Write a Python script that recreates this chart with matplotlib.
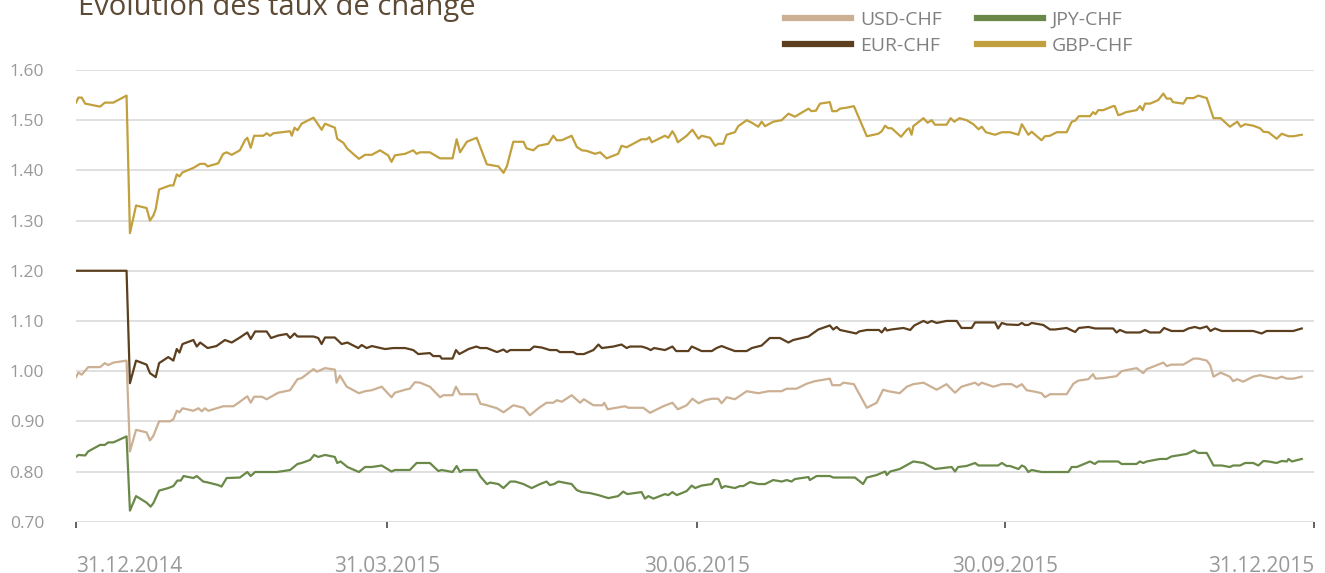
import numpy as np
import matplotlib
matplotlib.use("Agg")
import matplotlib.pyplot as plt

# Tage seit 31.12.2014 und Kurse
usd_tage = [0, 0.7, 1.7, 3.6, 7.1, 8.5, 9.5, 11, 14.9, 15.9, 17.7, 20.8, 21.8, 22.8, 24.5, 27.7, 28.7, 29.7,
            30.5, 31.4, 34.6, 36.1, 37.1, 38, 39, 41.9, 43.4, 46.4, 48.3, 50.5, 51.5, 52.5, 54.8, 56.2, 59.6,
            63.1, 65.3, 66.5, 70, 71, 73.4, 76.3, 76.8, 77.8, 79.8, 83.4, 85.2, 87.2, 90.1, 93, 94, 97, 98.4,
            99.9, 101.4, 104.3, 107.3, 108.3, 111, 112, 113.2, 118.1, 119.2, 121.1, 124.1, 126, 128.9, 131.9,
            133.8, 136.3, 138.7, 140.7, 141.7, 143.2, 146.1, 148.6, 149.7, 152.5, 155.2, 155.7, 156.7, 161.8,
            162.8, 167.2, 169.2, 173.1, 175.8, 177.4, 180, 181.7, 183.5, 185.4, 187.4, 189.3, 190.3, 191.8,
            194.2, 197.7, 201.1, 204.1, 208, 209.5, 212.4, 215.4, 217.8, 222.2, 222.9, 225.2, 226.2, 229.3,
            233.1, 236, 237.9, 239.4, 242.8, 244.9, 246.8, 249.8, 253.7, 256.6, 259.1, 261, 265, 266, 267,
            270.4, 272.9, 275.8, 277.3, 278.8, 280.2, 282.7, 284.6, 285.6, 287.1, 292, 294, 295.4, 298.4,
            299.8, 300.5, 302.8, 306.7, 308.2, 312.6, 314.6, 315.6, 320.5, 321.5, 322.9, 326.4, 329.4, 330.8,
            333.3, 334.3, 335.3, 337.4, 340.1, 341.1, 342.3, 344, 347, 349, 350.9, 353.9, 355.4, 356.9, 358.8,
            361.3]
usd_kurs = [0.988, 0.997, 0.993, 1.008, 1.008, 1.016, 1.012, 1.017, 1.021, 0.840, 0.883, 0.878, 0.862, 0.871,
            0.900, 0.900, 0.904, 0.921, 0.918, 0.926, 0.921, 0.926, 0.920, 0.926, 0.921, 0.927, 0.930, 0.930,
            0.939, 0.950, 0.937, 0.949, 0.949, 0.944, 0.957, 0.962, 0.984, 0.986, 1.004, 0.999, 1.006, 1.003,
            0.977, 0.991, 0.969, 0.956, 0.960, 0.962, 0.969, 0.948, 0.957, 0.963, 0.965, 0.978, 0.977, 0.969,
            0.948, 0.952, 0.952, 0.969, 0.954, 0.954, 0.935, 0.932, 0.926, 0.918, 0.932, 0.927, 0.912, 0.926,
            0.937, 0.937, 0.942, 0.939, 0.952, 0.937, 0.944, 0.932, 0.932, 0.937, 0.924, 0.930, 0.927, 0.927,
            0.917, 0.930, 0.937, 0.924, 0.932, 0.945, 0.936, 0.942, 0.945, 0.945, 0.936, 0.948, 0.944, 0.960,
            0.956, 0.960, 0.960, 0.965, 0.965, 0.975, 0.980, 0.985, 0.972, 0.972, 0.977, 0.974, 0.927, 0.937,
            0.963, 0.960, 0.956, 0.969, 0.974, 0.977, 0.963, 0.974, 0.957, 0.969, 0.977, 0.972, 0.977, 0.969,
            0.974, 0.974, 0.968, 0.974, 0.962, 0.959, 0.956, 0.948, 0.954, 0.954, 0.975, 0.981, 0.984, 0.994,
            0.985, 0.986, 0.990, 1.000, 1.006, 0.996, 1.004, 1.017, 1.010, 1.013, 1.013, 1.025, 1.025, 1.021,
            1.012, 0.989, 0.997, 0.989, 0.980, 0.984, 0.979, 0.989, 0.992, 0.989, 0.985, 0.989, 0.985, 0.985,
            0.989]

eur_tage = [0, 14.9, 15.9, 17.7, 20.8, 21.8, 23.5, 24.5, 27.2, 28.7, 29.7, 30.5, 31.4, 34.6, 35.6, 36.6, 38.8,
            41.4, 43.9, 45.9, 48.3, 50.5, 51.5, 52.8, 56.2, 57.5, 59.6, 62.1, 63.1, 64.4, 65.3, 70, 71.4, 72.4,
            73.4, 76.3, 78.3, 80, 83.2, 84.2, 85.7, 87.2, 91.1, 93.5, 97, 99.4, 100.9, 104.3, 105.3, 107.3,
            107.8, 111, 112, 113, 115.7, 118, 119.2, 121.1, 124.1, 126, 127, 128, 133.8, 135, 137.3, 139.7,
            141.7, 142.6, 146.6, 147.6, 149.7, 152.5, 154, 155, 158.4, 160.8, 162.3, 163.3, 166.7, 168.2, 169.4,
            170.4, 173.6, 175.8, 176.9, 180.5, 181.5, 182.5, 184.4, 187.4, 188.8, 190.3, 191.8, 194.2, 197.7,
            199.2, 202.1, 204.5, 207.5, 210, 211.4, 215.9, 218.8, 222.2, 223.2, 224.2, 225.2, 230, 230.8, 233.1,
            236.7, 237.5, 238.5, 239, 240.4, 243.9, 245.9, 247.1, 249.8, 251, 252.2, 253.7, 256.6, 259.6, 261,
            264, 265, 270.9, 271.8, 272.9, 274.3, 277.8, 278.8, 279.7, 280.7, 281.7, 285.1, 287.1, 288.6, 292,
            294.5, 295.6, 298.4, 300.4, 305.7, 306.7, 307.7, 309.5, 313.6, 315.1, 316.6, 319.5, 320.7, 322.9,
            326.4, 327.9, 329.8, 331.3, 333.3, 334.4, 335.7, 337.7, 347, 349.5, 350.9, 358.8, 361.3]
eur_kurs = [1.200, 1.200, 0.976, 1.021, 1.013, 0.996, 0.988, 1.016, 1.028, 1.021, 1.044, 1.037, 1.054, 1.062,
            1.049, 1.057, 1.046, 1.050, 1.062, 1.057, 1.067, 1.077, 1.064, 1.079, 1.079, 1.066, 1.071, 1.074,
            1.066, 1.075, 1.069, 1.069, 1.066, 1.054, 1.067, 1.067, 1.054, 1.057, 1.046, 1.052, 1.046, 1.050,
            1.044, 1.046, 1.046, 1.042, 1.034, 1.036, 1.030, 1.030, 1.025, 1.025, 1.042, 1.034, 1.044, 1.049,
            1.046, 1.046, 1.038, 1.043, 1.038, 1.042, 1.042, 1.049, 1.047, 1.042, 1.042, 1.038, 1.038, 1.034,
            1.034, 1.042, 1.053, 1.046, 1.049, 1.053, 1.046, 1.049, 1.049, 1.046, 1.042, 1.046, 1.042, 1.049,
            1.040, 1.040, 1.049, 1.046, 1.040, 1.040, 1.046, 1.050, 1.046, 1.040, 1.040, 1.046, 1.051, 1.066,
            1.066, 1.057, 1.062, 1.069, 1.083, 1.091, 1.083, 1.088, 1.082, 1.075, 1.079, 1.082, 1.082, 1.077,
            1.086, 1.081, 1.083, 1.086, 1.082, 1.091, 1.100, 1.096, 1.100, 1.096, 1.100, 1.100, 1.086, 1.086,
            1.097, 1.097, 1.085, 1.096, 1.093, 1.092, 1.096, 1.092, 1.092, 1.096, 1.092, 1.083, 1.083, 1.086,
            1.078, 1.086, 1.088, 1.085, 1.085, 1.077, 1.082, 1.077, 1.077, 1.082, 1.077, 1.077, 1.086, 1.080,
            1.080, 1.085, 1.088, 1.085, 1.089, 1.080, 1.085, 1.080, 1.080, 1.075, 1.080, 1.080, 1.085]

jpy_tage = [0, 0.7, 2.7, 3.6, 7.1, 8.5, 9.5, 11, 14.9, 15.9, 17.7, 20.8, 22, 22.8, 24.5, 27.2, 28.7, 29.9, 30.9,
            31.7, 34.6, 35.6, 37.5, 39, 41.9, 42.9, 44.4, 48.3, 50.5, 51.5, 52.8, 59.2, 63.1, 65.3, 66.5, 69,
            70.2, 71.4, 73.4, 76.3, 77, 78, 80, 83.4, 85.2, 87.2, 90.1, 93, 94, 98.4, 100.4, 104.3, 106.8,
            107.8, 111, 112.2, 113.2, 114.2, 118.1, 119.2, 121.1, 122.1, 124.5, 126, 128, 129.4, 131.9, 134.3,
            136.8, 138.7, 139.7, 140.9, 142.2, 143.7, 146.1, 147.6, 149.1, 151.5, 154, 156.9, 159.8, 161.3,
            162.5, 166.7, 167.7, 168.7, 170.2, 173.6, 174.6, 175.8, 177.1, 180, 181.5, 182.5, 184.4, 187.4,
            188.4, 189.3, 190.3, 191.3, 194.2, 195.7, 196.7, 198.7, 201.1, 203.1, 205.5, 208, 209.5, 210.9,
            211.9, 215.9, 216.3, 218.3, 222.2, 223.2, 229.6, 232, 233.1, 236, 238.5, 239, 240, 242.8, 246.8,
            249.8, 253.2, 258.1, 259.1, 260, 262.5, 265, 266, 271.8, 272.9, 274.3, 275.3, 277.8, 278.8, 279.7,
            280.7, 281.7, 284.6, 292.5, 293.5, 295, 298.9, 300.3, 301.3, 307.2, 308.2, 312.6, 313.6, 314.6,
            315.6, 319.5, 321.5, 322.9, 327.4, 329.6, 330.8, 333.3, 335.3, 337.7, 340.1, 341.1, 343.1, 344.6,
            347, 348.5, 350, 351.5, 353.9, 355.4, 356.9, 357.4, 358.4, 361.3]
jpy_kurs = [0.829, 0.833, 0.832, 0.840, 0.853, 0.853, 0.858, 0.858, 0.870, 0.722, 0.751, 0.738, 0.730, 0.737,
            0.762, 0.767, 0.771, 0.782, 0.782, 0.791, 0.787, 0.791, 0.780, 0.778, 0.773, 0.770, 0.787, 0.788,
            0.799, 0.791, 0.799, 0.799, 0.803, 0.815, 0.817, 0.823, 0.833, 0.829, 0.833, 0.829, 0.817, 0.820,
            0.809, 0.799, 0.809, 0.809, 0.812, 0.800, 0.803, 0.803, 0.817, 0.817, 0.801, 0.803, 0.799, 0.811,
            0.799, 0.803, 0.803, 0.790, 0.775, 0.778, 0.775, 0.767, 0.780, 0.780, 0.775, 0.767, 0.775, 0.780,
            0.773, 0.775, 0.780, 0.778, 0.775, 0.763, 0.759, 0.757, 0.753, 0.747, 0.751, 0.760, 0.755, 0.759,
            0.746, 0.751, 0.746, 0.755, 0.753, 0.759, 0.753, 0.761, 0.772, 0.767, 0.772, 0.775, 0.785, 0.785,
            0.767, 0.771, 0.767, 0.771, 0.771, 0.779, 0.775, 0.775, 0.783, 0.780, 0.783, 0.780, 0.785, 0.789,
            0.783, 0.791, 0.791, 0.788, 0.788, 0.775, 0.788, 0.793, 0.800, 0.793, 0.800, 0.805, 0.820, 0.817,
            0.805, 0.809, 0.800, 0.809, 0.811, 0.817, 0.812, 0.812, 0.817, 0.811, 0.811, 0.805, 0.812, 0.809,
            0.799, 0.803, 0.799, 0.799, 0.809, 0.809, 0.820, 0.815, 0.820, 0.820, 0.815, 0.815, 0.820, 0.817,
            0.820, 0.825, 0.825, 0.830, 0.835, 0.842, 0.837, 0.837, 0.812, 0.812, 0.809, 0.812, 0.812, 0.817,
            0.817, 0.812, 0.821, 0.820, 0.817, 0.821, 0.820, 0.825, 0.820, 0.825]

gbp_tage = [0, 0.7, 1.7, 2.7, 7.1, 8.5, 11, 14.9, 15.9, 17.7, 20.8, 21.8, 22.8, 23.5, 24.5, 27.7, 28.7, 29.7,
            30.5, 31.4, 34.6, 36.6, 38, 38.8, 41.9, 43.4, 44.4, 45.9, 48.3, 49.8, 50.5, 51.5, 52.5, 55.2, 56.2,
            57.2, 58.2, 63.1, 63.6, 64.4, 65.3, 66.5, 70, 72.4, 73.4, 76.3, 77, 78.8, 80, 83.4, 85.2, 87.2,
            89.6, 92, 93, 94, 97, 99.4, 100.4, 101.4, 104.3, 107.3, 111, 112.2, 113.2, 115.2, 118.1, 121.1,
            124.5, 126, 127, 128.9, 131.9, 132.8, 134.8, 136.3, 139.2, 140.7, 141.7, 143.2, 146.1, 147.6, 149.1,
            150.5, 153, 154.5, 156.4, 159.8, 160.8, 162.3, 166.7, 168.2, 169, 169.7, 173.6, 174.6, 175.8, 176.6,
            177.4, 180, 181.7, 183.5, 184.4, 186.9, 188.4, 189.3, 190.8, 191.8, 194.2, 195.2, 197.7, 199.2,
            201.1, 202.1, 203.1, 205.5, 208, 210, 211.9, 215.9, 216.8, 218.1, 219.3, 222.2, 222.9, 224.2, 225.2,
            227.2, 229.3, 233.1, 236.5, 237.5, 238.5, 239.4, 240.4, 243.2, 244.9, 245.6, 246.3, 246.8, 249.8,
            251, 252.2, 253.2, 256.6, 257.8, 258.9, 260.4, 262.5, 264.5, 266, 267, 268.2, 270.9, 272.9, 275.3,
            277.8, 278.8, 280.7, 281.7, 284.6, 285.6, 287.1, 289.1, 292, 293.5, 294.5, 295.6, 298.9, 299.8,
            300.5, 301.3, 302.8, 305.7, 306.2, 307.2, 308.2, 309.5, 312.6, 313.6, 314.4, 315.1, 316.6, 319,
            320.5, 321.5, 322.7, 323.3, 326.4, 327.4, 329.4, 330.8, 333.3, 335.3, 337.4, 340.1, 342.3, 343.3,
            344.6, 347, 349, 350, 351.5, 353.9, 355.4, 357.4, 358.8, 361.3]
gbp_kurs = [1.535, 1.545, 1.545, 1.533, 1.527, 1.535, 1.535, 1.549, 1.275, 1.330, 1.325, 1.300, 1.310, 1.323,
            1.362, 1.370, 1.370, 1.392, 1.388, 1.396, 1.405, 1.413, 1.413, 1.408, 1.414, 1.433, 1.436, 1.431,
            1.440, 1.460, 1.465, 1.445, 1.469, 1.469, 1.474, 1.469, 1.474, 1.478, 1.469, 1.485, 1.480, 1.493,
            1.505, 1.481, 1.493, 1.485, 1.463, 1.455, 1.443, 1.423, 1.431, 1.431, 1.440, 1.430, 1.417, 1.430,
            1.433, 1.440, 1.433, 1.436, 1.436, 1.424, 1.424, 1.462, 1.436, 1.457, 1.465, 1.412, 1.408, 1.395,
            1.408, 1.457, 1.457, 1.444, 1.440, 1.449, 1.453, 1.469, 1.460, 1.460, 1.469, 1.447, 1.440, 1.439,
            1.433, 1.436, 1.424, 1.433, 1.449, 1.446, 1.462, 1.462, 1.466, 1.456, 1.469, 1.465, 1.478, 1.469,
            1.456, 1.469, 1.481, 1.463, 1.469, 1.465, 1.449, 1.453, 1.453, 1.471, 1.476, 1.488, 1.500, 1.495,
            1.487, 1.497, 1.488, 1.497, 1.500, 1.513, 1.507, 1.523, 1.518, 1.519, 1.533, 1.536, 1.518, 1.518,
            1.523, 1.525, 1.528, 1.468, 1.473, 1.478, 1.489, 1.484, 1.484, 1.467, 1.481, 1.484, 1.471, 1.488,
            1.504, 1.495, 1.500, 1.491, 1.491, 1.504, 1.497, 1.504, 1.500, 1.492, 1.482, 1.487, 1.476, 1.471,
            1.476, 1.476, 1.471, 1.492, 1.471, 1.477, 1.460, 1.468, 1.469, 1.476, 1.476, 1.497, 1.499, 1.508,
            1.508, 1.516, 1.512, 1.520, 1.520, 1.528, 1.528, 1.510, 1.512, 1.516, 1.520, 1.528, 1.520, 1.533,
            1.533, 1.540, 1.553, 1.543, 1.543, 1.536, 1.533, 1.544, 1.544, 1.549, 1.544, 1.504, 1.504, 1.487,
            1.497, 1.487, 1.492, 1.489, 1.484, 1.477, 1.476, 1.463, 1.473, 1.468, 1.468, 1.471]

reihen = ["USD-CHF", "EUR-CHF", "JPY-CHF", "GBP-CHF"]
farben = ["#cbb093", "#5b3f1f", "#6a8948", "#c1a03d"]
y_ticks = [0.70, 0.80, 0.90, 1.00, 1.10, 1.20, 1.30, 1.40, 1.50, 1.60]
x_labels = ["31.12.2014", "31.03.2015", "30.06.2015", "30.09.2015", "31.12.2015"]
x_pos = [0, 91.8, 183.0, 273.8, 365]

plt.rcParams["font.family"] = ["Open Sans", "DejaVu Sans"]

fig = plt.figure(figsize=(13.25, 5.73), dpi=100)
ax = fig.add_axes([76 / 1325, 1 - 521.7 / 573, (1314.3 - 76) / 1325, (521.7 - 70) / 573])

serien = [(usd_tage, usd_kurs), (eur_tage, eur_kurs), (jpy_tage, jpy_kurs), (gbp_tage, gbp_kurs)]
for (tage, kurs), name, col in zip(serien, reihen, farben):
    ax.plot(tage, kurs, color=col, lw=1.6, label=name)

ax.set_ylim(0.70, 1.60)
ax.set_xlim(x_pos[0], x_pos[-1])
ax.set_yticks(y_ticks)
ax.set_yticklabels([f"{v:.2f}" for v in y_ticks])
ax.set_xticks(x_pos)
ax.set_xticklabels(x_labels)

ax.grid(axis="y", color="#dadada", lw=1.2)
ax.set_axisbelow(True)
for s in ax.spines.values():
    s.set_visible(False)
ax.tick_params(axis="y", length=0, pad=23, labelsize=12.5, labelcolor="#999999")
ax.tick_params(axis="x", length=4, width=1.3, color="#555555", pad=21, labelsize=15,
               labelcolor="#999999", direction="out")
xl = ax.get_xticklabels()
xl[0].set_ha("left")
xl[-1].set_ha("right")

fig.text(78 / 1325, 1 - 15 / 573, "Évolution des taux de change", fontsize=21,
         color="#5d4a35", ha="left", va="baseline")

fig.legend(loc="upper left", bbox_to_anchor=(785 / 1325, 1 - 11 / 573), ncol=2, frameon=False,
           fontsize=14, labelcolor="#808080", handlelength=3.4, handletextpad=0.45,
           columnspacing=1.8, labelspacing=0.4, borderpad=0, borderaxespad=0)
for h in fig.legends[0].get_lines():
    h.set_linewidth(4.5)

fig.savefig("out.png", dpi=100)
